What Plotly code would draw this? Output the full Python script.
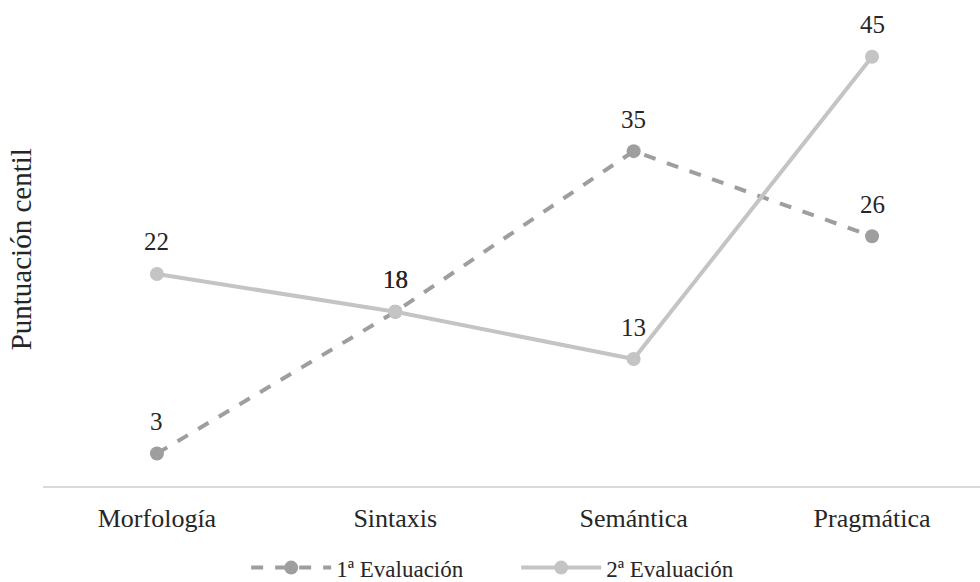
import plotly.graph_objects as go

categorias = ["Morfología", "Sintaxis", "Semántica", "Pragmática"]
eval_1 = [3, 18, 35, 26]
eval_2 = [22, 18, 13, 45]
nombres = ["1ª Evaluación", "2ª Evaluación"]
colores = ["#9e9e9e", "#c4c4c4"]
estilos = ["dash", "solid"]

FUENTE = "Liberation Serif"
TXT = "#262626"

fig = go.Figure()
anotaciones = []
for nombre, valores, color, estilo in zip(nombres, [eval_1, eval_2], colores, estilos):
    fig.add_trace(go.Scatter(
        x=categorias, y=valores, name=nombre,
        mode="lines+markers",
        line=dict(color=color, width=4, dash=estilo),
        marker=dict(color=color, size=14),
    ))
    # value labels above each point
    for cat, v in zip(categorias, valores):
        anotaciones.append(dict(
            x=cat, y=v, text=str(v), showarrow=False,
            xanchor="center", yanchor="middle", yshift=32,
            font=dict(family=FUENTE, size=25, color=TXT),
        ))

anotaciones.append(dict(
    text="Puntuación centil", textangle=-90,
    xref="paper", yref="paper", x=-0.024, y=0.486,
    xanchor="center", yanchor="middle", showarrow=False,
    font=dict(family=FUENTE, size=29, color=TXT),
))

fig.update_layout(
    width=980, height=582,
    margin=dict(l=43, r=0, t=0, b=96, autoexpand=False),
    paper_bgcolor="white", plot_bgcolor="white",
    font=dict(family=FUENTE, size=25, color=TXT),
    xaxis=dict(
        type="category", range=[-0.478, 3.453],
        showgrid=False, zeroline=False, automargin=False,
        showline=True, linecolor="#d9d9d9", linewidth=2,
        ticks="", ticklabelstandoff=8,
        tickfont=dict(family=FUENTE, size=26, color=TXT),
    ),
    yaxis=dict(range=[-0.44, 51.0], visible=False),
    showlegend=True,
    legend=dict(
        orientation="h", x=0.505, xanchor="center", y=-0.168, yanchor="middle",
        font=dict(family=FUENTE, size=23, color=TXT),
        itemwidth=80, entrywidth=175, entrywidthmode="pixels",
        traceorder="normal",
    ),
    annotations=anotaciones,
)

fig.write_html("out.html")
